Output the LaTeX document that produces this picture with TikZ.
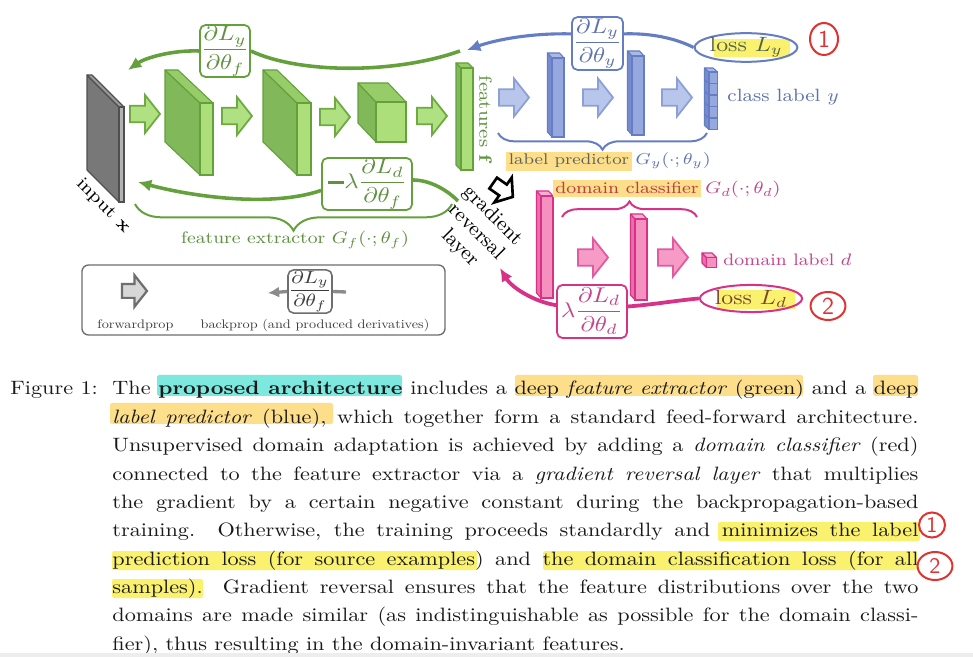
\RequirePackage{fix-cm}
\documentclass[tikz,border=0pt]{standalone}
\usepackage{amsmath}
\usepackage{graphicx}
\usetikzlibrary{arrows.meta,decorations.pathreplacing,shapes.geometric}

\definecolor{gline}{RGB}{100,160,60}
\definecolor{gfront}{RGB}{172,222,122}
\definecolor{gside}{RGB}{128,184,90}
\definecolor{gtop}{RGB}{150,205,105}
\definecolor{gtext}{RGB}{95,145,65}
\definecolor{garfill}{RGB}{175,225,130}
\definecolor{garline}{RGB}{110,170,65}
\definecolor{bline}{RGB}{100,125,195}
\definecolor{bfront}{RGB}{150,168,222}
\definecolor{bside}{RGB}{120,140,205}
\definecolor{btop}{RGB}{170,185,230}
\definecolor{btext}{RGB}{95,115,175}
\definecolor{barfill}{RGB}{185,198,235}
\definecolor{barline}{RGB}{140,160,215}
\definecolor{pline}{RGB}{215,50,135}
\definecolor{pfront}{RGB}{245,145,190}
\definecolor{pside}{RGB}{235,110,170}
\definecolor{ptop}{RGB}{250,175,210}
\definecolor{ptext}{RGB}{195,70,140}
\definecolor{parfill}{RGB}{245,155,198}
\definecolor{parline}{RGB}{225,90,160}
\definecolor{kline}{RGB}{80,80,80}
\definecolor{kfront}{RGB}{178,178,178}
\definecolor{kside}{RGB}{120,120,120}
\definecolor{ktop}{RGB}{155,155,155}
\definecolor{legline}{RGB}{110,110,110}
\definecolor{leggray}{RGB}{215,215,215}
\definecolor{legtext}{RGB}{60,60,60}
\definecolor{hlorange}{RGB}{253,222,138}
\definecolor{hlyellow}{RGB}{250,242,110}
\definecolor{hlcyan}{RGB}{125,232,222}
\definecolor{lptext}{RGB}{95,100,90}
\definecolor{dctext}{RGB}{190,60,70}
\definecolor{lossytext}{RGB}{85,100,75}
\definecolor{lossdtext}{RGB}{120,70,45}
\definecolor{handred}{RGB}{225,50,50}
\definecolor{captext}{RGB}{25,25,25}

\newcommand{\sq}[1]{\scalebox{1}[0.87]{#1}}
\newcommand{\legsq}[1]{\scalebox{0.64}[0.557]{#1}}
\newcommand{\thickminus}{\rule[2.1pt]{7.5pt}{1.4pt}}
\newcommand{\blk}[7]{%
  \filldraw[fill=#1side, draw=#1line, line join=round, line width=0.5pt] (#2,#3) -- ++(-#6,-#7) -- ++(0,#5) -- ++(#6,#7) -- cycle;
  \filldraw[fill=#1top, draw=#1line, line join=round, line width=0.5pt] (#2,#3) -- ++(-#6,-#7) -- ++(#4,0) -- ++(#6,#7) -- cycle;
  \filldraw[fill=#1front, draw=#1line, line width=0.5pt] (#2,#3) rectangle ++(#4,#5);}
\newcommand{\fatarrow}[4][]{%
  \begin{scope}[shift={(#2,#3)},#1]
    \filldraw[#4] (-15,-8.3) -- (0,-8.3) -- (0,-19) -- (15,0) -- (0,19) -- (0,8.3) -- (-15,8.3) -- cycle;
  \end{scope}}

\begin{document}
\begin{tikzpicture}[x=0.45pt,y=-0.45pt,
  lbl/.style={inner sep=0pt, font=\fontsize{9.2}{11}\selectfont},
  captxt/.style={inner sep=0pt, font=\fontsize{10}{12}\selectfont, text=captext, anchor=base west},
  dbox/.style={draw, fill=white, rounded corners=2.5pt, line width=0.8pt, inner sep=0pt, font=\fontsize{11}{13}\selectfont},
  gcurve/.style={draw=gline, line width=1.6pt},
  bcurve/.style={draw=bline, line width=1.4pt},
  pcurve/.style={draw=pline, line width=1.7pt},
  tipa/.style={-{Latex[length=6pt,width=5.5pt]}},
  gfwd/.style={fill=garfill, draw=garline, line width=0.8pt},
  bfwd/.style={fill=barfill, draw=barline, line width=0.8pt},
  pfwd/.style={fill=parfill, draw=parline, line width=0.8pt},
  hand/.style={ellipse, draw=handred, line width=0.9pt, inner sep=0pt, text=handred, font=\fontsize{11}{12}\selectfont\sffamily},
  hlbox/.style={rounded corners=1pt}]
\fill[white] (0,0) rectangle (973,657);
\useasboundingbox (0,0) rectangle (973,657);

% ---------- blocks ----------
\blk{k}{119}{107}{5}{95}{32}{32}
\blk{g}{200}{103}{13}{72}{35}{33}
\blk{g}{297}{103}{14}{72}{34}{33}
\blk{g}{376}{102}{30}{40}{18}{19}
\blk{g}{461}{68}{12}{102}{5}{5}
\blk{b}{552}{58}{12}{79}{4.5}{5}
\blk{b}{632}{56}{12}{79}{4.5}{5}
\foreach \i in {4,3,2,1,0} {\blk{b}{709}{72+11.5*\i}{8.5}{11.5}{4.5}{4}}
\blk{p}{541}{196}{12}{102}{4.5}{5}
\blk{p}{635}{219}{12}{81}{4.5}{5}
\blk{p}{706.5}{257.5}{10}{10}{4.5}{4.5}

% ---------- forward arrows ----------
\fatarrow{145}{114}{gfwd}
\fatarrow{237}{116}{gfwd}
\fatarrow{335}{117}{gfwd}
\fatarrow{432}{116}{gfwd}
\fatarrow{514}{97.5}{bfwd}
\fatarrow{598}{97.5}{bfwd}
\fatarrow{677}{97.5}{bfwd}
\fatarrow{593}{257.5}{pfwd}
\fatarrow{673}{257.5}{pfwd}
\fatarrow[scale=0.8,rotate=-35]{503}{190}{fill=white, draw=black, line width=1.2pt}

% ---------- braces ----------
\draw[gline, line width=0.9pt, decorate, decoration={brace, mirror, amplitude=12pt}] (135,204) -- (452,204);
\draw[bline, line width=0.9pt, decorate, decoration={brace, mirror, amplitude=7.5pt}] (498,133) -- (707,133);
\draw[pline, line width=0.9pt, decorate, decoration={brace, amplitude=7pt}] (562,217) -- (697,217);

% ---------- labels ----------
\node[lbl, text=gtext, font=\fontsize{8.6}{10}\selectfont] (fe) at (295,240) {\sq{feature extractor $G_f(\cdot;\theta_f)$}};
\node[lbl, fill=hlorange, inner sep=1.2pt, text=lptext, anchor=base, font=\fontsize{8}{10}\selectfont] (lp) at (569,165) {\sq{label predictor}};
\node[lbl, text=btext, anchor=base west, font=\fontsize{8.2}{10}\selectfont] (gy) at (lp.base east) {\sq{\,$G_y(\cdot;\theta_y)$}};
\node[lbl, fill=hlorange, inner sep=1.2pt, text=dctext, anchor=base, font=\fontsize{8.4}{10}\selectfont] (dc) at (627,194) {\sq{domain classifier}};
\node[lbl, text=ptext, anchor=base west, font=\fontsize{8.6}{10}\selectfont] (gd) at (dc.base east) {\sq{\,$G_d(\cdot;\theta_d)$}};
\node[lbl, rotate=-90, text=gtext] (feat) at (485.5,120) {\sq{features $\mathbf{f}$}};
\node[lbl, rotate=-45, text=black] (inp) at (103,206) {\sq{input $\mathbf{x}$}};
\node[lbl, rotate=-45, align=center, font=\fontsize{9.2}{10.3}\selectfont] (grl) at (476,232) {gradient\\reversal\\layer};
\node[lbl, anchor=west, text=btext] (cly) at (727,97.5) {\sq{class label $y$}};
\node[lbl, anchor=west, text=ptext, font=\fontsize{8.6}{10}\selectfont] (dld) at (723,260) {\sq{domain label $d$}};

% ---------- loss ellipses ----------
\fill[hlyellow] (714,39) rectangle (790,57);
\node[ellipse, draw=bline, line width=0.9pt, minimum width=41.4pt, minimum height=11.5pt, inner sep=0pt, text=lossytext, font=\fontsize{10.7}{12}\selectfont] (lossy) at (746,47.5) {\sq{loss $L_y$}};
\fill[hlyellow] (717,290) rectangle (795,309);
\node[ellipse, draw=pline, line width=0.9pt, minimum width=41.4pt, minimum height=12.2pt, inner sep=0pt, text=lossdtext, font=\fontsize{10.7}{12}\selectfont] (lossd) at (751,298.5) {\sq{loss $L_d$}};

% ---------- derivative boxes ----------
\node[dbox, draw=gline, text=gtext, minimum width=22.5pt, minimum height=23.4pt] (dgf) at (225,51) {\sq{$\displaystyle\frac{\partial L_y}{\partial\theta_f}$}};
\node[dbox, draw=bline, text=btext, minimum width=23pt, minimum height=23.8pt] (dby) at (597.5,43.5) {\sq{$\displaystyle\frac{\partial L_y}{\partial\theta_y}$}};
\node[dbox, draw=gline, text=gtext, minimum width=40.5pt, minimum height=23.4pt] (gl) at (367,184) {\sq{\thickminus$\lambda\displaystyle\frac{\partial L_d}{\partial\theta_f}$}};
\node[dbox, draw=pline, text=ptext, minimum width=31.5pt, minimum height=23.9pt] (pl) at (592,311.5) {\sq{$\lambda\displaystyle\frac{\partial L_d}{\partial\theta_d}$}};

% ---------- backprop curves ----------
\coordinate (gtopstart) at (460,51);
\coordinate (gtoptip) at (128,70);
\draw[gcurve] (gtopstart) .. controls (395,74) and (300,74) .. (dgf.east);
\draw[gcurve, tipa] (dgf.west) .. controls (172,50) and (145,58) .. (gtoptip);
\coordinate (btip) at (467,50);
\draw[bcurve] (lossy.west) .. controls (675,38) and (650,33) .. (dby.20);
\draw[bcurve, tipa] (dby.160) .. controls (530,33) and (495,40) .. (btip);
\coordinate (glstart) at (458,201);
\coordinate (gltip) at (138,182);
\draw[gcurve] (glstart) .. controls (445,188) and (428,180) .. (gl.5);
\draw[gcurve, tipa] (gl.188) .. controls (270,208) and (190,196) .. (gltip);
\coordinate (ptip) at (500,268);
\draw[pcurve] (lossd.west) .. controls (680,300) and (650,305) .. (pl.8);
\draw[pcurve, tipa] (pl.170) .. controls (535,302) and (512,288) .. (ptip);

% ---------- hand-drawn circled numbers ----------
\node[hand, minimum width=12.6pt, minimum height=14.4pt] (c1) at (824,39) {1};
\node[hand, minimum width=15.7pt, minimum height=12.6pt] (c2) at (828,306) {2};

% ---------- legend ----------
\node[draw=legline, rounded corners=3pt, line width=0.6pt, minimum width=163.4pt, minimum height=31.5pt, inner sep=0pt] (legend) at (263.5,300) {};
\fatarrow[scale=0.83]{134.5}{291}{fill=leggray, draw=legline, line width=1pt}
\node[dbox, draw=legline, text=legtext, line width=0.7pt, minimum width=19.8pt, minimum height=19.4pt, font=\fontsize{9.2}{11}\selectfont] (ldb) at (310,291.5) {\sq{$\displaystyle\frac{\partial L_y}{\partial\theta_f}$}};
\coordinate (legr) at (346,292);
\coordinate (legtip) at (268,293);
\draw[draw=legline!80, line width=1.5pt] (legr) -- (ldb.east);
\draw[draw=legline!80, line width=1.5pt, -{Latex[length=5pt,width=5pt]}] (ldb.west) -- (legtip);
\node[inner sep=0pt, text=legtext, font=\fontsize{10}{12}\selectfont] (fwd) at (135.5,325.5) {\legsq{forwardprop}};
\node[inner sep=0pt, text=legtext, font=\fontsize{10}{12}\selectfont] (bwd) at (315,325.5) {\legsq{backprop (and produced derivatives)}};

% ---------- caption highlights ----------
\fill[hlcyan, hlbox] (157,375) rectangle (402,396);
\fill[hlorange, hlbox] (515,375) rectangle (803,396);
\fill[hlorange, hlbox] (873,375) rectangle (918,396);
\fill[hlorange, hlbox] (110,403) rectangle (333,424);
\fill[hlyellow, hlbox] (718,522) rectangle (920,541);
\fill[hlyellow, hlbox] (112,551) rectangle (477,570);
\fill[hlyellow, hlbox] (543,551) rectangle (917,570);
\fill[hlyellow, hlbox] (112,579) rectangle (203,598);

% ---------- caption ----------
\node[captxt] (fig) at (10,395) {\sq{Figure 1:}};
\node[captxt] (l1) at (112,395) {\sq{\makebox[362.7pt][s]{The \textbf{proposed architecture} includes a deep \emph{feature extractor} (green) and a deep}}};
\node[captxt] (l2) at (112,423.3) {\sq{\makebox[362.7pt][s]{\emph{label predictor} (blue), which together form a standard feed-forward architecture.}}};
\node[captxt] (l3) at (112,451.7) {\sq{\makebox[362.7pt][s]{Unsupervised domain adaptation is achieved by adding a \emph{domain classifier} (red)}}};
\node[captxt] (l4) at (112,480) {\sq{\makebox[362.7pt][s]{connected to the feature extractor via a \emph{gradient reversal layer} that multiplies}}};
\node[captxt] (l5) at (112,508.3) {\sq{\makebox[362.7pt][s]{the gradient by a certain negative constant during the backpropagation-based}}};
\node[captxt] (l6) at (112,536.7) {\sq{\makebox[362.7pt][s]{training. Otherwise, the training proceeds standardly and minimizes the label}}};
\node[captxt] (l7) at (112,565) {\sq{\makebox[362.7pt][s]{prediction loss (for source examples) and the domain classification loss (for all}}};
\node[captxt] (l8) at (112,593.3) {\sq{\makebox[362.7pt][s]{samples). Gradient reversal ensures that the feature distributions over the two}}};
\node[captxt] (l9) at (112,621.7) {\sq{\makebox[362.7pt][s]{domains are made similar (as indistinguishable as possible for the domain classi-}}};
\node[captxt] (l10) at (112,650) {\sq{fier), thus resulting in the domain-invariant features.}};

\node[hand, minimum width=11.7pt, minimum height=11.3pt, font=\fontsize{10}{11}\selectfont\sffamily] (c3) at (932,525) {1};
\node[hand, minimum width=15.7pt, minimum height=12.6pt, font=\fontsize{10}{11}\selectfont\sffamily] (c4) at (935,566) {2};

\fill[black!7] (0,653) rectangle (973,657);
\end{tikzpicture}
\end{document}
